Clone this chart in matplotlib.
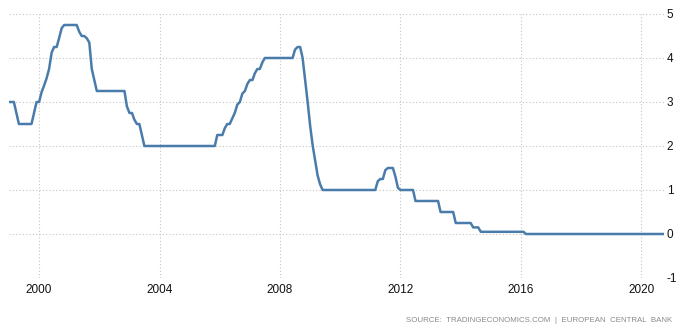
import matplotlib
matplotlib.use("Agg")
import matplotlib.pyplot as plt
import matplotlib.dates as mdates
import pandas as pd

plt.rcParams["font.family"] = ["Liberation Sans", "DejaVu Sans"]
plt.rcParams["axes.unicode_minus"] = False

# ECB main refinancing rate, monthly values (Jan..Dec)
rate_by_year = {
    1999: [3.0, 3.0, 3.0, 2.75, 2.5, 2.5, 2.5, 2.5, 2.5, 2.5, 2.75, 3.0],
    2000: [3.0, 3.23, 3.37, 3.54, 3.75, 4.12, 4.25, 4.25, 4.46, 4.68, 4.75, 4.75],
    2001: [4.75, 4.75, 4.75, 4.75, 4.6, 4.5, 4.5, 4.45, 4.35, 3.75, 3.5, 3.25],
    2002: [3.25, 3.25, 3.25, 3.25, 3.25, 3.25, 3.25, 3.25, 3.25, 3.25, 3.25, 2.9],
    2003: [2.75, 2.75, 2.6, 2.5, 2.5, 2.25, 2.0, 2.0, 2.0, 2.0, 2.0, 2.0],
    2004: [2.0, 2.0, 2.0, 2.0, 2.0, 2.0, 2.0, 2.0, 2.0, 2.0, 2.0, 2.0],
    2005: [2.0, 2.0, 2.0, 2.0, 2.0, 2.0, 2.0, 2.0, 2.0, 2.0, 2.0, 2.25],
    2006: [2.25, 2.25, 2.4, 2.5, 2.5, 2.63, 2.75, 2.94, 3.0, 3.19, 3.25, 3.41],
    2007: [3.5, 3.5, 3.65, 3.75, 3.75, 3.9, 4.0, 4.0, 4.0, 4.0, 4.0, 4.0],
    2008: [4.0, 4.0, 4.0, 4.0, 4.0, 4.0, 4.19, 4.25, 4.25, 4.0, 3.5, 3.0],
    2009: [2.45, 2.0, 1.68, 1.33, 1.13, 1.0, 1.0, 1.0, 1.0, 1.0, 1.0, 1.0],
    2010: [1.0, 1.0, 1.0, 1.0, 1.0, 1.0, 1.0, 1.0, 1.0, 1.0, 1.0, 1.0],
    2011: [1.0, 1.0, 1.0, 1.2, 1.25, 1.25, 1.45, 1.5, 1.5, 1.5, 1.3, 1.05],
    2012: [1.0, 1.0, 1.0, 1.0, 1.0, 1.0, 0.75, 0.75, 0.75, 0.75, 0.75, 0.75],
    2013: [0.75, 0.75, 0.75, 0.75, 0.5, 0.5, 0.5, 0.5, 0.5, 0.5, 0.25, 0.25],
    2014: [0.25, 0.25, 0.25, 0.25, 0.25, 0.15, 0.15, 0.15, 0.05, 0.05, 0.05, 0.05],
    2015: [0.05, 0.05, 0.05, 0.05, 0.05, 0.05, 0.05, 0.05, 0.05, 0.05, 0.05, 0.05],
    2016: [0.05, 0.05, 0.0, 0.0, 0.0, 0.0, 0.0, 0.0, 0.0, 0.0, 0.0, 0.0],
    2017: [0.0] * 12,
    2018: [0.0] * 12,
    2019: [0.0] * 12,
    2020: [0.0] * 10,
}
x_tick_years = [2000, 2004, 2008, 2012, 2016, 2020]
y_ticks = [-1, 0, 1, 2, 3, 4, 5]
source_text = "SOURCE:  TRADINGECONOMICS.COM  |  EUROPEAN  CENTRAL  BANK"

values = [v for yr in sorted(rate_by_year) for v in rate_by_year[yr]]
dates = pd.date_range("1999-01-01", periods=len(values), freq="MS")

fig = plt.figure(figsize=(6.86, 3.31), dpi=100)
ax = fig.add_axes([9 / 686, 1 - 278 / 331, (664 - 9) / 686, (278 - 14) / 331])

ax.plot(dates, values, color="#4a7cab", lw=1.8, solid_joinstyle="round")

ax.set_xlim(dates[0], dates[-1])
ax.set_ylim(-1, 5)
ax.set_yticks(y_ticks)
ax.set_xticks([pd.Timestamp(f"{y}-01-01") for y in x_tick_years])
ax.xaxis.set_major_formatter(mdates.DateFormatter("%Y"))

ax.yaxis.tick_right()
ax.tick_params(axis="both", length=0, labelsize=8.5, colors="#111111")
ax.tick_params(axis="y", pad=2)
ax.tick_params(axis="x", pad=4)

ax.grid(True, color="#c4c4c4", linestyle=(0, (1, 2)), linewidth=0.8)
ax.set_axisbelow(True)
for s in ax.spines.values():
    s.set_visible(False)

fig.text(672 / 686, 1 - 320 / 331, source_text, ha="right", va="center",
         fontsize=5.7, color="#8a8a8a")

fig.savefig("out.png", dpi=100)
